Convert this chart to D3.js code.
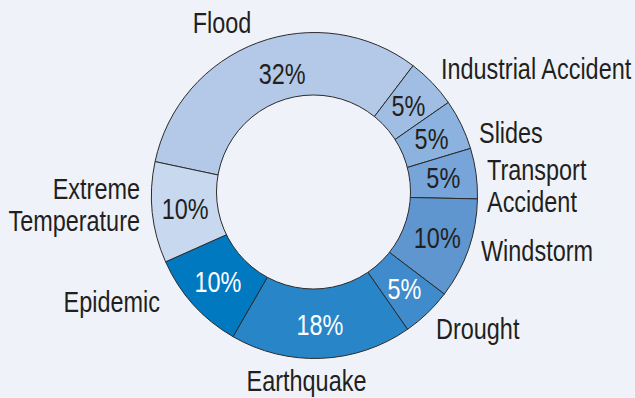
<!DOCTYPE html>
<html>
<head>
<meta charset="utf-8">
<script src="https://cdn.jsdelivr.net/npm/d3@7"></script>
<style>
  html, body { margin: 0; padding: 0; background: #eff3f9; }
  svg { display: block; }
  text { font-family: "Liberation Sans", Arial, sans-serif; }
</style>
</head>
<body>
<svg id="chart" width="635" height="398"></svg>
<script>
// Share of disaster types (percent), clockwise from the upper left
const categories = ["Flood", "Industrial Accident", "Slides", "Transport Accident", "Windstorm",
                    "Drought", "Earthquake", "Epidemic", "Extreme Temperature"];
const shares = [32, 5, 5, 5, 10, 5, 18, 10, 10];
const sliceColors = ["#b3c9e7", "#a0bee3", "#8cb2df", "#77a5d9", "#5f96d0",
                     "#3f8bcb", "#2886c8", "#0079c1", "#c8d9ef"];
const valueTextColors = ["#231f20", "#231f20", "#231f20", "#231f20", "#231f20",
                         "#ffffff", "#ffffff", "#ffffff", "#231f20"];

const W = 635, H = 398;
const cx = 314.5, cy = 195.5;
const outerR = 163, innerR = 97;
const holeCx = 313.5, holeCy = 192;
const fontSize = 28.6;
const narrow = 0.82;   // condensed sans look

const svg = d3.select("#chart");
svg.append("rect").attr("width", W).attr("height", H).attr("fill", "#eff3f9");

const data = categories.map((c, i) => ({ name: c, value: shares[i], color: sliceColors[i], textColor: valueTextColors[i] }));

const startA = -78 * Math.PI / 180;
const pie = d3.pie().value(d => d.value).sort(null)
  .startAngle(startA).endAngle(startA + 2 * Math.PI);
const arcs = pie(data);

const arc = d3.arc().innerRadius(60).outerRadius(outerR);
const labelArc = d3.arc().innerRadius(innerR).outerRadius(outerR);

const g = svg.append("g").attr("transform", `translate(${cx},${cy})`);
g.selectAll("path.slice").data(arcs).join("path")
  .attr("class", "slice")
  .attr("d", arc)
  .attr("fill", d => d.data.color)
  .attr("stroke", "#2b2b2b")
  .attr("stroke-width", 1)
  .attr("stroke-linejoin", "round");

// centre hole
svg.append("circle")
  .attr("cx", holeCx).attr("cy", holeCy).attr("r", innerR)
  .attr("fill", "#eff3f9")
  .attr("stroke", "#2b2b2b").attr("stroke-width", 1);

// helper: condensed text anchored at (x, y)
function ctext(parent, x, y, str, anchor, fill) {
  parent.append("g")
    .attr("transform", `translate(${x},${y}) scale(${narrow},1)`)
    .append("text")
    .attr("text-anchor", anchor)
    .attr("font-size", fontSize)
    .attr("fill", fill)
    .text(str);
}

// value labels inside the ring
const nudge = { "Flood": [13, 0] };
arcs.forEach(d => {
  const [x, y] = labelArc.centroid(d);
  const n = nudge[d.data.name] || [0, 0];
  ctext(g, x + n[0], y + n[1] + 10, d.data.value + "%", "middle", d.data.textColor);
});

// category labels around the ring
const outside = svg.append("g").attr("fill", "#231f20");
const catLabels = [
  { lines: ["Flood"], x: 222, y: 33, anchor: "middle" },
  { lines: ["Industrial Accident"], x: 441, y: 79, anchor: "start" },
  { lines: ["Slides"], x: 479, y: 143, anchor: "start" },
  { lines: ["Transport", "Accident"], x: 487, y: 180, anchor: "start" },
  { lines: ["Windstorm"], x: 481, y: 261, anchor: "start" },
  { lines: ["Drought"], x: 436, y: 339, anchor: "start" },
  { lines: ["Earthquake"], x: 306.5, y: 391, anchor: "middle" },
  { lines: ["Epidemic"], x: 160, y: 311.5, anchor: "end" },
  { lines: ["Extreme", "Temperature"], x: 140, y: 199, anchor: "end" }
];
catLabels.forEach(l => {
  l.lines.forEach((s, k) => ctext(outside, l.x, l.y + k * 31.5, s, l.anchor, "#231f20"));
});
</script>
</body>
</html>
